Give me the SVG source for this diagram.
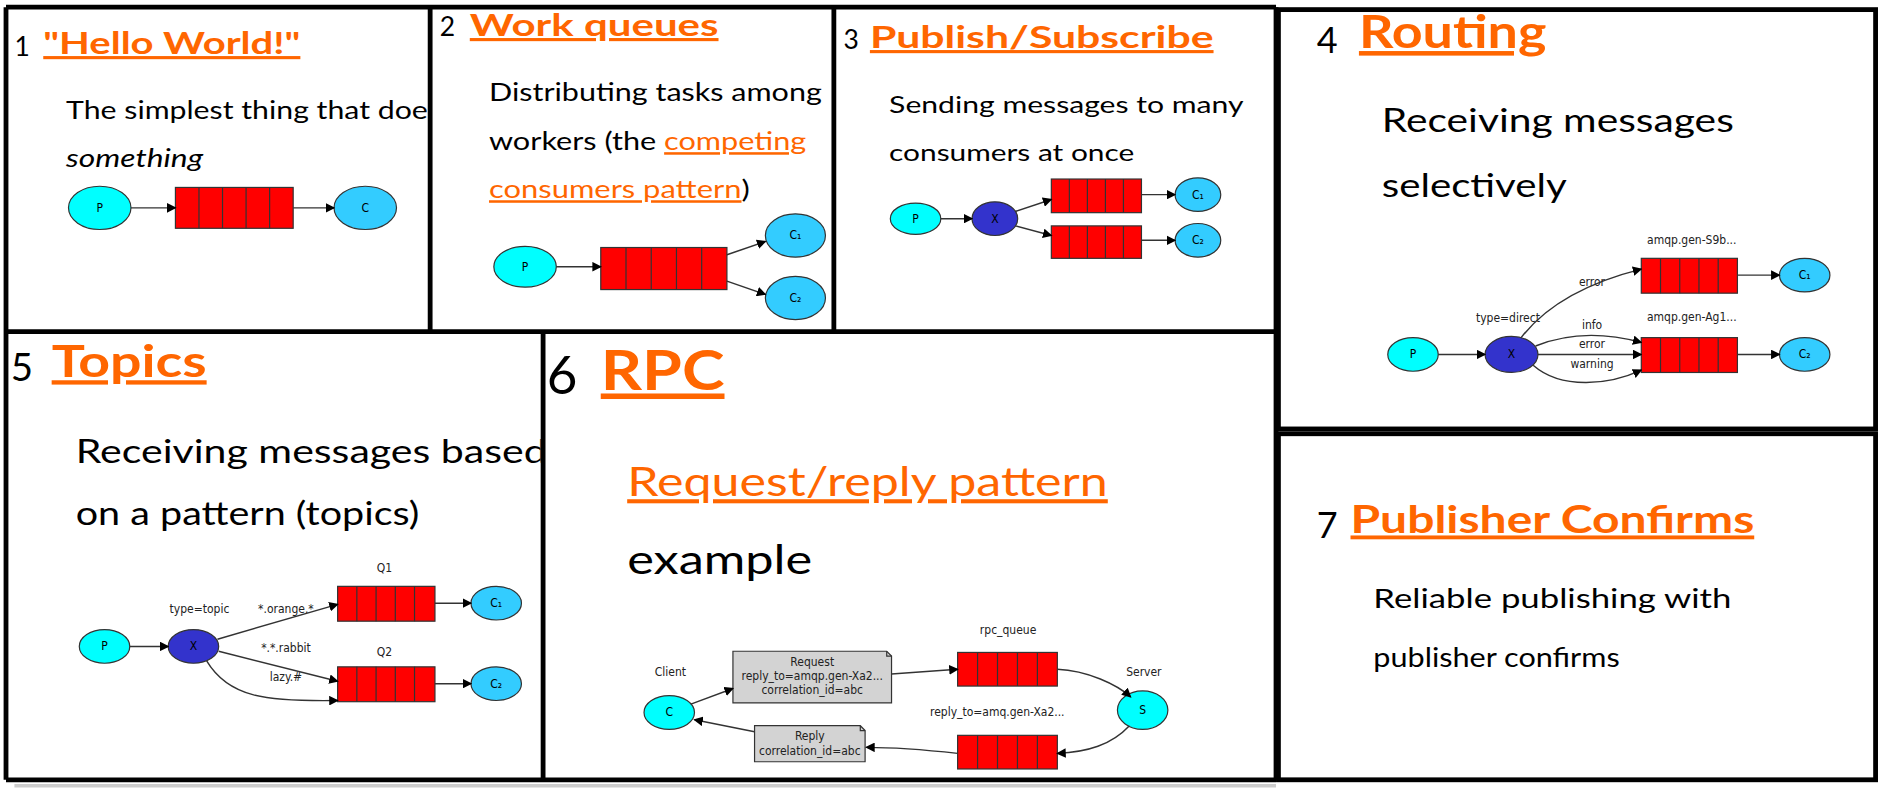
<svg xmlns="http://www.w3.org/2000/svg" width="1884" height="789" viewBox="0 0 1884 789">
<defs>
<marker id="ah" markerWidth="8" markerHeight="8" refX="7" refY="4" orient="auto" markerUnits="userSpaceOnUse"><path d="M0,0 L8,4 L0,8 z" fill="#000"/></marker>
<style>
.b{stroke:#000;stroke-width:4;fill:none}
.t{font-family:Lato,"Open Sans",sans-serif;fill:#000}
.o{font-family:Lato,"Open Sans",sans-serif;fill:#ff6600;text-decoration:underline}
.ob{font-family:Lato,"Open Sans",sans-serif;fill:#ff6600;font-weight:bold;text-decoration:underline}
.l{font-family:"DejaVu Sans Condensed","DejaVu Sans",sans-serif;font-size:10px;fill:#222}
.n{font-family:"DejaVu Sans Condensed","DejaVu Sans",sans-serif;font-size:10px;fill:#000;text-anchor:middle;dominant-baseline:central}
.p{fill:#00ffff;stroke:#333;stroke-width:1}
.c{fill:#33ccff;stroke:#333;stroke-width:1}
.x{fill:#3333cc;stroke:#333;stroke-width:1}
.q{fill:#ff0000;stroke:#333;stroke-width:1}
.a{stroke:#333;stroke-width:1.2;fill:none;marker-end:url(#ah)}
.g{fill:#d3d3d3;stroke:#333;stroke-width:1}
</style>
<clipPath id="c1"><rect x="7" y="8" width="349" height="266"/></clipPath>
<clipPath id="c5"><rect x="7" y="278" width="443" height="369"/></clipPath>
</defs>
<rect width="1884" height="789" fill="#fff"/>
<g transform="scale(1.20153)">
<g id="frames">
<line class="b" x1="5" y1="6" x2="1062" y2="6"/>
<line class="b" x1="5" y1="6" x2="5" y2="649"/>
<line class="b" x1="358" y1="6" x2="358" y2="276"/>
<line class="b" x1="694" y1="6" x2="694" y2="276"/>
<line class="b" x1="5" y1="276" x2="1062" y2="276"/>
<line class="b" x1="452" y1="278" x2="452" y2="649"/>
<line class="b" x1="5" y1="649" x2="1062" y2="649"/>
<rect class="b" x="1064" y="8" width="497" height="349"/>
<rect class="b" x="1064" y="361" width="497" height="288"/>
<line x1="1062" y1="6" x2="1062" y2="649" stroke="#000" stroke-width="4"/>
<line x1="12" y1="654" x2="1062" y2="654" stroke="#ccc" stroke-width="3"/>
</g>

<g id="panel1">
<text class="t" x="12" y="47" font-size="22">1</text>
<text class="ob" x="36" y="45" font-size="26" textLength="214" lengthAdjust="spacingAndGlyphs">"Hello World!"</text>
<g clip-path="url(#c1)">
<text class="t" x="55" y="99" font-size="21" textLength="312" lengthAdjust="spacingAndGlyphs">The simplest thing that does</text>
</g>
<text class="t" x="55" y="139" font-size="21" font-style="italic" textLength="114" lengthAdjust="spacingAndGlyphs">something</text>
<ellipse class="p" cx="83" cy="173" rx="26" ry="18"/><text class="n" x="83" y="173">P</text>
<rect class="q" x="146" y="156" width="98" height="34"/>
<path d="M165.6,156v34M185.2,156v34M204.8,156v34M224.4,156v34" stroke="#333"/>
<ellipse class="c" cx="304" cy="173" rx="26" ry="18"/><text class="n" x="304" y="173">C</text>
<line class="a" x1="109" y1="173" x2="146" y2="173"/>
<line class="a" x1="244" y1="173" x2="278" y2="173"/>
</g>

<g id="panel2">
<text class="t" x="366" y="30" font-size="22">2</text>
<text class="ob" x="391" y="30" font-size="26" textLength="207" lengthAdjust="spacingAndGlyphs">Work queues</text>
<text class="t" x="407" y="84" font-size="21" textLength="277" lengthAdjust="spacingAndGlyphs">Distributing tasks among</text>
<text class="t" x="407" y="125" font-size="21" textLength="264" lengthAdjust="spacingAndGlyphs">workers (the <tspan class="o">competing</tspan></text>
<text class="t" x="407" y="165" font-size="21" textLength="217" lengthAdjust="spacingAndGlyphs"><tspan class="o">consumers pattern</tspan>)</text>
<ellipse class="p" cx="437" cy="222" rx="26" ry="17"/><text class="n" x="437" y="222">P</text>
<rect class="q" x="500" y="206" width="105" height="35"/>
<path d="M521,206v35M542,206v35M563,206v35M584,206v35" stroke="#333"/>
<ellipse class="c" cx="662" cy="196" rx="25" ry="18"/><text class="n" x="662" y="196">C₁</text>
<ellipse class="c" cx="662" cy="248" rx="25" ry="18"/><text class="n" x="662" y="248">C₂</text>
<line class="a" x1="463" y1="222" x2="500" y2="222"/>
<line class="a" x1="605" y1="212" x2="637" y2="201"/>
<line class="a" x1="605" y1="234" x2="637" y2="245"/>
</g>

<g id="panel3">
<text class="t" x="702" y="41" font-size="22">3</text>
<text class="ob" x="724" y="40" font-size="26" textLength="286" lengthAdjust="spacingAndGlyphs">Publish/Subscribe</text>
<text class="t" x="740" y="94" font-size="20" textLength="295" lengthAdjust="spacingAndGlyphs">Sending messages to many</text>
<text class="t" x="740" y="134" font-size="20" textLength="204" lengthAdjust="spacingAndGlyphs">consumers at once</text>
<ellipse class="p" cx="762" cy="182" rx="21" ry="13"/><text class="n" x="762" y="182">P</text>
<ellipse class="x" cx="828" cy="182" rx="19" ry="14"/><text class="n" x="828" y="182">X</text>
<rect class="q" x="875" y="149" width="75" height="28"/>
<path d="M890,149v28M905,149v28M920,149v28M935,149v28" stroke="#333"/>
<rect class="q" x="875" y="188" width="75" height="27"/>
<path d="M890,188v27M905,188v27M920,188v27M935,188v27" stroke="#333"/>
<ellipse class="c" cx="997" cy="162" rx="19" ry="14"/><text class="n" x="997" y="162">C₁</text>
<ellipse class="c" cx="997" cy="200" rx="19" ry="14"/><text class="n" x="997" y="200">C₂</text>
<line class="a" x1="783" y1="182" x2="809" y2="182"/>
<line class="a" x1="845" y1="176" x2="875" y2="166"/>
<line class="a" x1="845" y1="188" x2="875" y2="196"/>
<line class="a" x1="950" y1="162" x2="978" y2="162"/>
<line class="a" x1="950" y1="200" x2="978" y2="200"/>
</g>

<g id="panel4">
<text class="t" x="1096" y="44" font-size="30">4</text>
<text class="ob" x="1131" y="40" font-size="38" textLength="156" lengthAdjust="spacingAndGlyphs">Routing</text>
<text class="t" x="1150" y="110" font-size="27" textLength="293" lengthAdjust="spacingAndGlyphs">Receiving messages</text>
<text class="t" x="1150" y="164" font-size="27" textLength="154" lengthAdjust="spacingAndGlyphs">selectively</text>
<text class="l" x="1408" y="203" text-anchor="middle">amqp.gen-S9b...</text>
<rect class="q" x="1366" y="215" width="80" height="29"/>
<path d="M1382,215v29M1398,215v29M1414,215v29M1430,215v29" stroke="#333"/>
<ellipse class="c" cx="1502" cy="229" rx="21" ry="14"/><text class="n" x="1502" y="229">C₁</text>
<text class="l" x="1325" y="238" text-anchor="middle">error</text>
<text class="l" x="1255" y="268" text-anchor="middle">type=direct</text>
<text class="l" x="1325" y="274" text-anchor="middle">info</text>
<text class="l" x="1408" y="267" text-anchor="middle">amqp.gen-Ag1...</text>
<ellipse class="p" cx="1176" cy="295" rx="21" ry="14"/><text class="n" x="1176" y="295">P</text>
<ellipse class="x" cx="1258" cy="295" rx="22" ry="15"/><text class="n" x="1258" y="295">X</text>
<rect class="q" x="1366" y="281" width="80" height="29"/>
<path d="M1382,281v29M1398,281v29M1414,281v29M1430,281v29" stroke="#333"/>
<ellipse class="c" cx="1502" cy="295" rx="21" ry="14"/><text class="n" x="1502" y="295">C₂</text>
<text class="l" x="1325" y="290" text-anchor="middle">error</text>
<text class="l" x="1325" y="306" text-anchor="middle">warning</text>
<line class="a" x1="1197" y1="295" x2="1236" y2="295"/>
<path class="a" d="M1266,281 C1290,250 1330,233 1366,224"/>
<path class="a" d="M1278,288 C1310,275 1340,278 1366,285"/>
<line class="a" x1="1280" y1="295" x2="1366" y2="295"/>
<path class="a" d="M1276,304 C1300,325 1340,320 1366,308"/>
<line class="a" x1="1446" y1="229" x2="1481" y2="229"/>
<line class="a" x1="1446" y1="295" x2="1481" y2="295"/>
</g>

<g id="panel5">
<text class="t" x="9" y="317" font-size="32">5</text>
<text class="ob" x="43" y="314" font-size="36" textLength="129" lengthAdjust="spacingAndGlyphs">Topics</text>
<g clip-path="url(#c5)">
<text class="t" x="63" y="385" font-size="27" textLength="392" lengthAdjust="spacingAndGlyphs">Receiving messages based</text>
</g>
<text class="t" x="63" y="437" font-size="27" textLength="286" lengthAdjust="spacingAndGlyphs">on a pattern (topics)</text>
<text class="l" x="320" y="476" text-anchor="middle">Q1</text>
<rect class="q" x="281" y="488" width="81" height="29"/>
<path d="M297,488v29M313,488v29M329,488v29M345,488v29" stroke="#333"/>
<ellipse class="c" cx="413" cy="502" rx="21" ry="14"/><text class="n" x="413" y="502">C₁</text>
<text class="l" x="166" y="510" text-anchor="middle">type=topic</text>
<text class="l" x="238" y="510" text-anchor="middle">*.orange.*</text>
<ellipse class="p" cx="87" cy="538" rx="21" ry="14"/><text class="n" x="87" y="538">P</text>
<ellipse class="x" cx="161" cy="538" rx="21" ry="14"/><text class="n" x="161" y="538">X</text>
<text class="l" x="238" y="543" text-anchor="middle">*.*.rabbit</text>
<text class="l" x="320" y="546" text-anchor="middle">Q2</text>
<rect class="q" x="281" y="555" width="81" height="29"/>
<path d="M297,555v29M313,555v29M329,555v29M345,555v29" stroke="#333"/>
<ellipse class="c" cx="413" cy="569" rx="21" ry="14"/><text class="n" x="413" y="569">C₂</text>
<text class="l" x="238" y="567" text-anchor="middle">lazy.#</text>
<line class="a" x1="108" y1="538" x2="140" y2="538"/>
<line class="a" x1="181" y1="532" x2="281" y2="503"/>
<line class="a" x1="182" y1="542" x2="281" y2="567"/>
<path class="a" d="M172,550 C190,580 220,584 281,583"/>
<line class="a" x1="362" y1="502" x2="392" y2="502"/>
<line class="a" x1="362" y1="569" x2="392" y2="569"/>
</g>

<g id="panel6">
<text class="t" x="455" y="328" font-size="44">6</text>
<text class="ob" x="500" y="325" font-size="46" textLength="103" lengthAdjust="spacingAndGlyphs">RPC</text>
<text class="o" x="522" y="413" font-size="34" textLength="400" lengthAdjust="spacingAndGlyphs">Request/reply pattern</text>
<text class="t" x="522" y="478" font-size="34" textLength="154" lengthAdjust="spacingAndGlyphs">example</text>
<text class="l" x="558" y="563" text-anchor="middle" font-size="11">Client</text>
<ellipse class="p" cx="557" cy="593" rx="21" ry="14"/><text class="n" x="557" y="593">C</text>
<path class="g" d="M610,542 H738 L742,546 V585 H610 Z"/>
<path d="M738,542 V546 H742" fill="none" stroke="#333"/>
<text class="l" x="676" y="554" text-anchor="middle">Request</text>
<text class="l" x="676" y="566" text-anchor="middle">reply_to=amqp.gen-Xa2...</text>
<text class="l" x="676" y="578" text-anchor="middle">correlation_id=abc</text>
<text class="l" x="839" y="528" text-anchor="middle">rpc_queue</text>
<rect class="q" x="797" y="543" width="83" height="28"/>
<path d="M813.6,543v28M830.2,543v28M846.8,543v28M863.4,543v28" stroke="#333"/>
<text class="l" x="952" y="563" text-anchor="middle" font-size="11">Server</text>
<ellipse class="p" cx="951" cy="591" rx="21" ry="16"/><text class="n" x="951" y="591">S</text>
<text class="l" x="830" y="596" text-anchor="middle">reply_to=amq.gen-Xa2...</text>
<rect class="q" x="797" y="612" width="83" height="28"/>
<path d="M813.6,612v28M830.2,612v28M846.8,612v28M863.4,612v28" stroke="#333"/>
<path class="g" d="M628,604 H716 L720,608 V634 H628 Z"/>
<path d="M716,604 V608 H720" fill="none" stroke="#333"/>
<text class="l" x="674" y="616" text-anchor="middle">Reply</text>
<text class="l" x="674" y="628" text-anchor="middle">correlation_id=abc</text>
<line class="a" x1="575" y1="586" x2="610" y2="573"/>
<line class="a" x1="742" y1="561" x2="797" y2="557"/>
<path class="a" d="M880,557 C905,558 930,570 941,580"/>
<path class="a" d="M940,604 C925,620 905,626 880,627"/>
<path class="a" d="M797,627 C770,624 745,622 721,622"/>
<line class="a" x1="628" y1="609" x2="578" y2="599"/>
</g>

<g id="panel7">
<text class="t" x="1096" y="448" font-size="30">7</text>
<text class="ob" x="1124" y="444" font-size="32" textLength="336" lengthAdjust="spacingAndGlyphs">Publisher Confirms</text>
<text class="t" x="1143" y="506" font-size="23" textLength="298" lengthAdjust="spacingAndGlyphs">Reliable publishing with</text>
<text class="t" x="1143" y="555" font-size="23" textLength="205" lengthAdjust="spacingAndGlyphs">publisher confirms</text>
</g>
</g>
</svg>
